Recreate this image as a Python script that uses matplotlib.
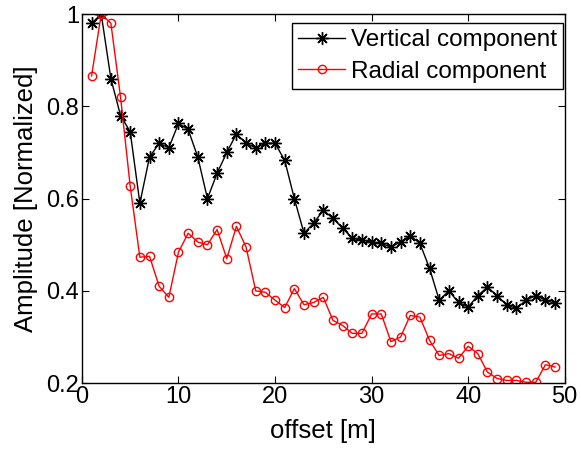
import numpy as np
import matplotlib
matplotlib.use("Agg")
from matplotlib import pyplot as plt

plt.rcParams['font.family'] = ['Liberation Sans', 'DejaVu Sans']

offset = list(range(1, 50))

vertical = [0.98, 1.0, 0.86, 0.78, 0.745, 0.59, 0.69, 0.72, 0.71, 0.763,
            0.75, 0.69, 0.60, 0.655, 0.70, 0.74, 0.72, 0.71, 0.72, 0.72,
            0.683, 0.60, 0.525, 0.547, 0.575, 0.557, 0.536, 0.514, 0.51, 0.506,
            0.503, 0.495, 0.506, 0.52, 0.503, 0.449, 0.38, 0.40, 0.375, 0.365,
            0.39, 0.408, 0.39, 0.369, 0.362, 0.38, 0.39, 0.38, 0.373]

radial = [0.866, 1.0, 0.98, 0.82, 0.627, 0.473, 0.475, 0.41, 0.386, 0.484,
          0.525, 0.506, 0.50, 0.533, 0.47, 0.54, 0.495, 0.40, 0.397, 0.38,
          0.364, 0.405, 0.37, 0.375, 0.386, 0.336, 0.325, 0.308, 0.308, 0.35,
          0.35, 0.29, 0.30, 0.347, 0.343, 0.293, 0.26, 0.264, 0.254, 0.28,
          0.264, 0.224, 0.21, 0.206, 0.206, 0.202, 0.202, 0.24, 0.235]

xticks = [0, 10, 20, 30, 40, 50]
yticks = [0.2, 0.4, 0.6, 0.8, 1.0]
ytick_labels = ['0.2', '0.4', '0.6', '0.8', '1']

fig = plt.figure(figsize=(5.81, 4.54), dpi=100)
ax = fig.add_axes([0.141, 0.156, 0.831, 0.813])

# matlab style asterisk marker
ax.plot(offset, vertical, color='k', lw=1, marker=(8, 2, 0), ms=9, mew=1,
        label='Vertical component')
ax.plot(offset, radial, color='r', lw=1, marker='o', ms=6, mfc='none',
        mew=1, label='Radial component')

ax.set_xlim(0, 50)
ax.set_ylim(0.2, 1.0)
ax.set_xticks(xticks)
ax.set_yticks(yticks)
ax.set_yticklabels(ytick_labels)
ax.tick_params(direction='in', top=True, right=True, labelsize=17, length=5,
               pad=2)
for s in ax.spines.values():
    s.set_linewidth(1)

ax.set_xlabel('offset [m]', fontsize=18.5, labelpad=8)
ax.set_ylabel('Amplitude [Normalized]', fontsize=18.5, labelpad=6)

leg = ax.legend(loc='upper right', bbox_to_anchor=(0.996, 0.976),
                fontsize=17.5, fancybox=False,
                edgecolor='k', framealpha=1, borderaxespad=0,
                handlelength=1.9, borderpad=0.25, labelspacing=0.4,
                handletextpad=0.25)
leg.get_frame().set_linewidth(1)

fig.savefig('out.png', dpi=100)
